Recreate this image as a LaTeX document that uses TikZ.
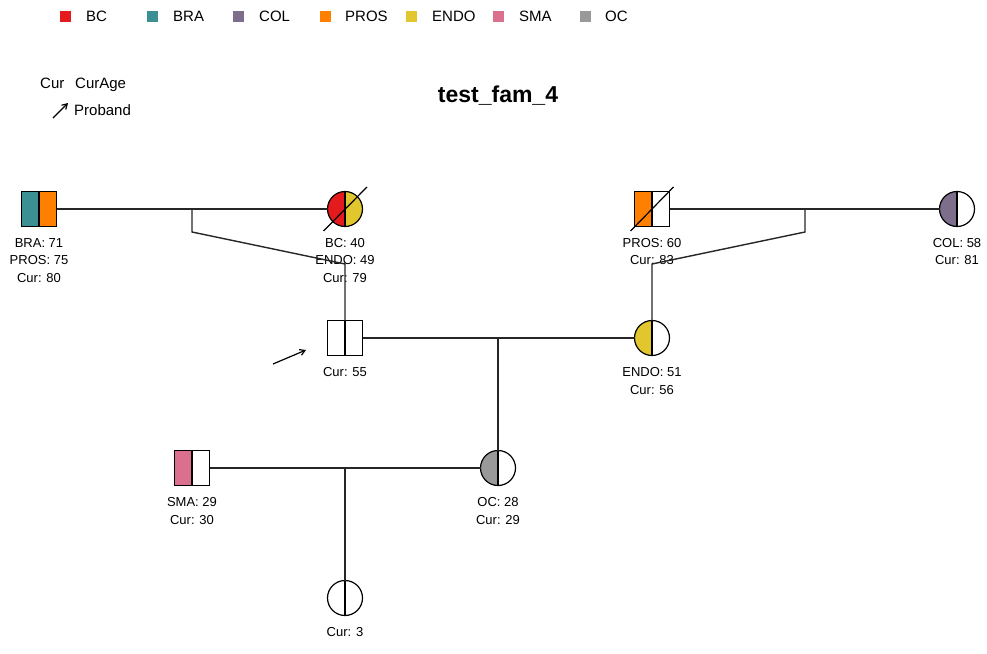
\documentclass[tikz,border=0pt]{standalone}
\usepackage{fontspec}
\setmainfont{Liberation Sans}
\usetikzlibrary{arrows.meta,positioning}
\definecolor{cBC}{HTML}{E41A1C}
\definecolor{cBRA}{HTML}{3C8F92}
\definecolor{cCOL}{HTML}{7D6E8C}
\definecolor{cPROS}{HTML}{FF7F00}
\definecolor{cENDO}{HTML}{E2C62E}
\definecolor{cSMA}{HTML}{DB708E}
\definecolor{cOC}{HTML}{999999}
\tikzset{
  sym/.style={draw=black, line width=1.2pt, minimum size=35pt, inner sep=0pt, outer sep=0pt},
  sq/.style={sym, rectangle},
  ci/.style={sym, circle},
  halves/.style 2 args={path picture={
      \fill[#1] (path picture bounding box.south west) rectangle (path picture bounding box.north);
      \fill[#2] (path picture bounding box.south) rectangle (path picture bounding box.north east);
      \draw[line width=1.2pt] (path picture bounding box.south) -- (path picture bounding box.north);}},
  lab/.style={inner sep=0pt, align=center, font=\fontsize{13}{17.5}\selectfont},
  link/.style={line width=1.4pt, draw=black!85},
  legtxt/.style={inner sep=0pt, font=\fontsize{15}{15}\selectfont},
  legbox/.style={fill=#1, minimum size=11pt, inner sep=0pt, draw=none},
  dead/.style={line width=1.2pt},
  arr/.style={line width=1.2pt, -{Straight Barb[length=5pt,width=6pt]}},
}
\begin{document}
\begin{tikzpicture}[x=1pt,y=-1pt]
\useasboundingbox (0,0) rectangle (987,653);
% top legend
\node[legbox=cBC] (l1) at (65,16) {}; \node[legtxt, anchor=west] (t1) at (86,16) {BC};
\node[legbox=cBRA] (l2) at (152,16) {}; \node[legtxt, anchor=west] (t2) at (173,16) {BRA};
\node[legbox=cCOL] (l3) at (238,16) {}; \node[legtxt, anchor=west] (t3) at (259,16) {COL};
\node[legbox=cPROS] (l4) at (325,16) {}; \node[legtxt, anchor=west] (t4) at (345,16) {PROS};
\node[legbox=cENDO] (l5) at (411,16) {}; \node[legtxt, anchor=west] (t5) at (432,16) {ENDO};
\node[legbox=cSMA] (l6) at (498,16) {}; \node[legtxt, anchor=west] (t6) at (519,16) {SMA};
\node[legbox=cOC] (l7) at (585,16) {}; \node[legtxt, anchor=west] (t7) at (605,16) {OC};
% key legend
\node[legtxt, anchor=base west] (k1) at (40,88.4) {Cur};
\node[legtxt, anchor=base west] (k2) at (75,88.4) {CurAge};
\node[legtxt, anchor=base west] (k3) at (74,115.4) {Proband};
\coordinate (ka) at (53,118); \coordinate (kb) at (68,103);
\draw[arr] (ka) -- (kb);
% title
\node[inner sep=0pt, font=\bfseries\fontsize{23}{23}\selectfont] (title) at (498,96) {test\_fam\_4};
% symbols
\node[sq, halves={cBRA}{cPROS}] (g1) at (39,209) {};
\node[ci, halves={cBC}{cENDO}] (g2) at (345,209) {};
\node[sq, halves={cPROS}{white}] (g3) at (652,209) {};
\node[ci, halves={cCOL}{white}] (g4) at (957,209) {};
\node[sq, halves={white}{white}] (pb) at (345,338) {};
\node[ci, halves={cENDO}{white}] (mo) at (652,338) {};
\node[sq, halves={cSMA}{white}] (sma) at (192,468) {};
\node[ci, halves={cOC}{white}] (oc) at (498,468) {};
\node[ci, halves={white}{white}] (ch) at (345,598) {};
% labels
\node[lab, below=11.5pt of g1] (g1l) {BRA: 71\\PROS: 75\\Cur: 80};
\node[lab, below=11.5pt of g2] (g2l) {BC: 40\\ENDO: 49\\Cur: 79};
\node[lab, below=11.5pt of g3] (g3l) {PROS: 60\\Cur: 83};
\node[lab, below=11.5pt of g4] (g4l) {COL: 58\\Cur: 81};
\node[lab, below=12pt of pb] (pbl) {Cur: 55};
\node[lab, below=12pt of mo] (mol) {ENDO: 51\\Cur: 56};
\node[lab, below=12pt of sma] (smal) {SMA: 29\\Cur: 30};
\node[lab, below=12pt of oc] (ocl) {OC: 28\\Cur: 29};
\node[lab, below=11.5pt of ch] (chl) {Cur: 3};
% deceased marks
\draw[dead] ([shift={(-21.5,22)}]g2.center) -- ([shift={(22,-22)}]g2.center);
\draw[dead] ([shift={(-21.5,22)}]g3.center) -- ([shift={(21.5,-22)}]g3.center);
% connectors
\coordinate (m1) at (192,209); \coordinate (m1d) at (192,232); \coordinate (m1k) at (345,264);
\coordinate (m2) at (805,209); \coordinate (m2d) at (805,232); \coordinate (m2k) at (652,264);
\coordinate (m3) at (498,338);
\coordinate (m4) at (345,468);
\draw[link] (g1.east) -- (g2.west);
\draw[link] (m1) -- (m1d) -- (m1k) -- (pb.north);
\draw[link] (g3.east) -- (g4.west);
\draw[link] (m2) -- (m2d) -- (m2k) -- (mo.north);
\draw[link] (pb.east) -- (mo.west);
\draw[link] (m3) -- (oc.north);
\draw[link] (sma.east) -- (oc.west);
\draw[link] (m4) -- (ch.north);
% proband arrow
\coordinate (pa) at (273,364); \coordinate (pb2) at (306,350);
\draw[arr] (pa) -- (pb2);
\end{tikzpicture}
\end{document}
